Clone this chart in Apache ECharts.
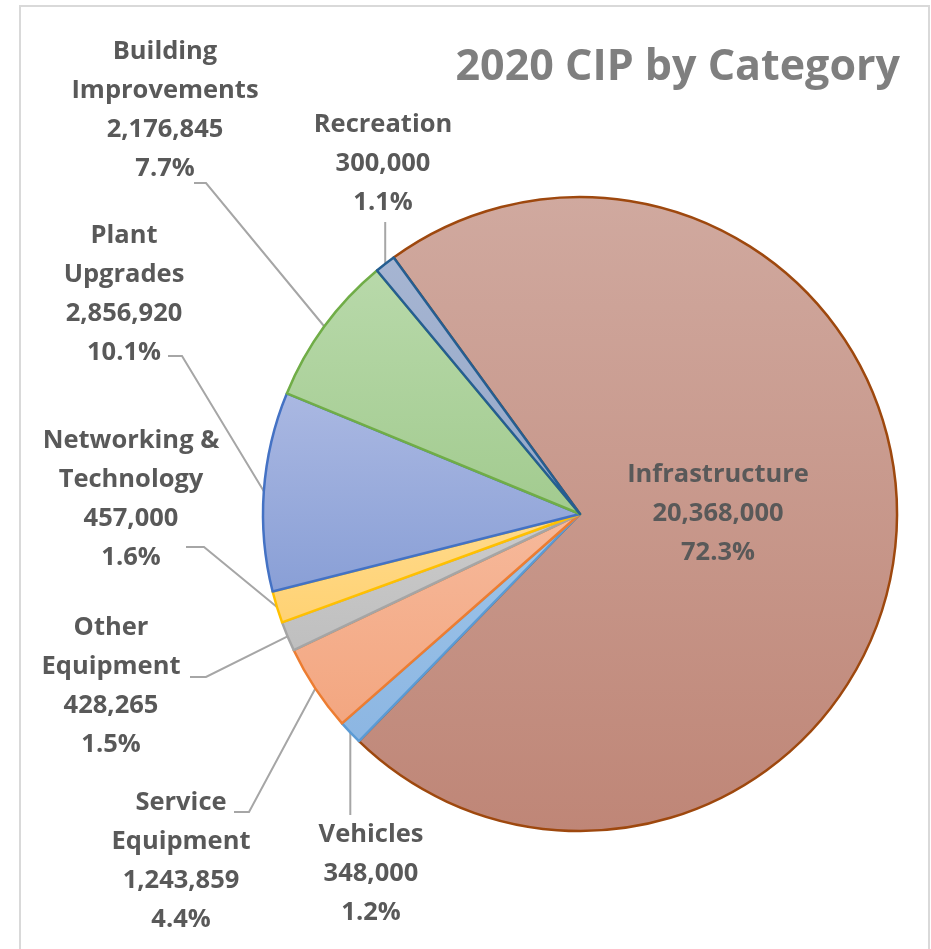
<!DOCTYPE html>
<html>
<head>
<meta charset="utf-8">
<script src="https://cdn.jsdelivr.net/npm/echarts@6/dist/echarts.min.js"></script>
<style>
html, body { margin: 0; padding: 0; background: #fff; }
#myChart { width: 931px; height: 949px; }
</style>
</head>
<body>
<div id="myChart"></div>
<script>
// 数据
let categories = ['Infrastructure', 'Vehicles', 'Service\nEquipment', 'Other\nEquipment', 'Networking &\nTechnology', 'Plant\nUpgrades', 'Building\nImprovements', 'Recreation']
let amounts = [20368000, 348000, 1243859, 428265, 457000, 2856920, 2176845, 300000]

// 颜色
let fillTop = ['#d0a99f', '#9ec5e9', '#f6b99b', '#cbcbcb', '#ffda8c', '#aab8e2', '#b8d9aa', '#a6b5d2']
let fillBottom = ['#bf8677', '#8cb6e2', '#f3a680', '#bfbfbf', '#ffd273', '#899fd6', '#a2cb8f', '#95a8c8']
let borderColors = ['#9e480e', '#5b9bd5', '#ed7d31', '#a5a5a5', '#ffc000', '#4472c4', '#70ad47', '#255e91']

let total = amounts.reduce((a, b) => a + b, 0)

function fmt(v) {
    return String(v).replace(/\B(?=(\d{3})+(?!\d))/g, ',')
}

// 标签位置: [中心x, 中心y, 引线端点x, 引线端点y, 拐点偏移]
let labelSpots = [
    [718, 514],
    [371, 874, null, 815],
    [181, 861, 234, 812, 15],
    [111, 686, 190, 677, 16],
    [131, 499, 186, 547, 18],
    [124, 294, 168, 356, 14],
    [165, 110, 194, 183, 12],
    [383, 164, null, 222]
]

let myChart = echarts.init(document.getElementById('myChart'))

let pieData = categories.map((name, i) => {
    let item = {
        name: name,
        value: amounts[i],
        itemStyle: {
            color: {
                type: 'linear', x: 0, y: 0, x2: 0, y2: 1,
                colorStops: [{ offset: 0, color: fillTop[i] }, { offset: 1, color: fillBottom[i] }]
            },
            borderColor: borderColors[i]
        }
    }
    if (i === 0) {
        item.label = { position: 'inside' }
        item.labelLine = { show: false }
    }
    return item
})

let option = {
    animation: false,
    title: {
        text: '2020 CIP by Category',
        right: 31,
        top: 46,
        padding: 0,
        textStyle: {
            color: '#7f7f7f',
            fontSize: 43,
            fontWeight: 'bold',
            fontFamily: 'Open Sans'
        }
    },
    graphic: [{
        type: 'rect',
        shape: { x: 20, y: 6, width: 909, height: 970 },
        style: { fill: 'none', stroke: '#d9d9d9', lineWidth: 2 },
        silent: true
    }],
    series: [
        {
            type: 'pie',
            center: [580, 514],
            radius: 317,
            startAngle: 126,
            clockwise: true,
            avoidLabelOverlap: false,
            itemStyle: {
                borderWidth: 2.5
            },
            emphasis: { disabled: true },
            label: {
                show: true,
                color: '#595959',
                fontFamily: 'Open Sans',
                fontWeight: 'bold',
                fontSize: 25.5,
                lineHeight: 39,
                align: 'center',
                formatter: function (p) {
                    return p.name + '\n' + fmt(p.value) + '\n' + (p.value / total * 100).toFixed(1) + '%'
                }
            },
            labelLine: {
                show: true,
                length: 15,
                length2: 15,
                lineStyle: {
                    color: '#a6a6a6',
                    width: 2
                }
            },
            labelLayout: function (params) {
                let s = labelSpots[params.dataIndex]
                let res = { x: s[0], y: s[1], align: 'center', verticalAlign: 'middle' }
                let pts = params.labelLinePoints
                if (pts && s.length > 2) {
                    let a = pts[0]
                    if (s[2] == null) {
                        res.labelLinePoints = [[a[0], a[1]], [a[0], s[3]], [a[0], s[3]]]
                    } else {
                        res.labelLinePoints = [[a[0], a[1]], [s[2] + s[4], s[3]], [s[2], s[3]]]
                    }
                }
                return res
            },
            data: pieData
        }
    ]
}
myChart.setOption(option)

window.addEventListener('resize', () => {
    myChart.resize()
})
</script>
</body>
</html>
